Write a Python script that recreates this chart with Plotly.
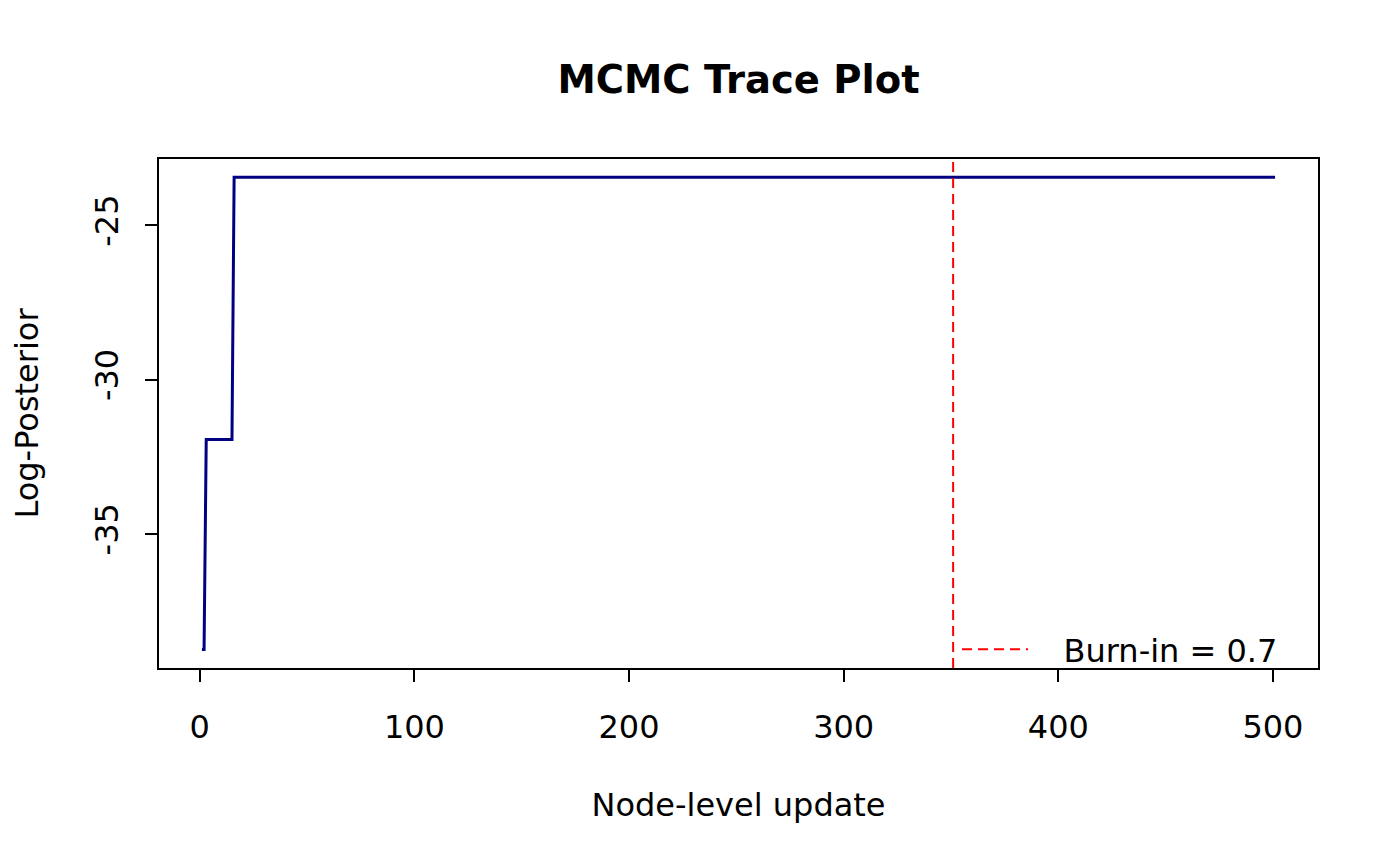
import plotly.graph_objects as go

# log-posterior trace (values at the points where the chain changes level)
update_step = [1, 2, 3, 15, 16, 501]
log_post = [-38.74, -38.74, -31.94, -31.94, -23.44, -23.44]

burn_in_frac = 0.7
burn_in_step = 351

x_ticks = [0, 100, 200, 300, 400, 500]
y_ticks = [-35, -30, -25]

font = 'DejaVu Sans'
nb = '\u00a0'

fig = go.Figure()

fig.add_trace(go.Scatter(x=update_step,
                         y=log_post,
                         mode='lines',
                         line=dict(color='#000080', width=3),
                         showlegend=False,
                         hoverinfo='x+y'))

fig.add_shape(type='line',
              xref='x', yref='paper',
              x0=burn_in_step, x1=burn_in_step, y0=0, y1=1,
              line=dict(color='red', width=2, dash='10px,6px'),
              showlegend=True,
              name=nb * 3 + f'Burn-in = {burn_in_frac}')

fig.update_layout(
    width=1400, height=866,
    paper_bgcolor='white', plot_bgcolor='white',
    margin=dict(l=151, r=90, t=151, b=206),
    font=dict(family=font, size=32, color='black'),
    title=dict(text='<b>MCMC Trace Plot</b>',
               xref='paper', x=0.5, xanchor='center',
               y=1 - 72 / 866, yanchor='middle',
               font=dict(size=38.5, color='black')),
    legend=dict(x=1 - 35 / 1159, y=-9 / 509, xanchor='right', yanchor='bottom',
                bgcolor='rgba(0,0,0,0)', borderwidth=0,
                font=dict(size=32), itemwidth=66),
    showlegend=True,
)

fig.update_xaxes(range=[-19, 521],
                 tickvals=x_ticks,
                 ticktext=[str(v) for v in x_ticks],
                 ticks='outside', ticklen=12, tickwidth=2, tickcolor='black',
                 showline=True, mirror=True, linecolor='black', linewidth=2,
                 showgrid=False, zeroline=False,
                 ticklabelstandoff=18,
                 title=dict(text='Node-level update', standoff=48,
                            font=dict(size=32)))

fig.update_yaxes(range=[-39.34, -22.85],
                 tickvals=y_ticks,
                 ticktext=[str(v) for v in y_ticks],
                 tickangle=-90,
                 ticks='outside', ticklen=12, tickwidth=2, tickcolor='black',
                 showline=True, mirror=True, linecolor='black', linewidth=2,
                 showgrid=False, zeroline=False,
                 ticklabelstandoff=14,
                 title=dict(text='Log-Posterior', standoff=43,
                            font=dict(size=32)))

fig.write_html('out.html')
